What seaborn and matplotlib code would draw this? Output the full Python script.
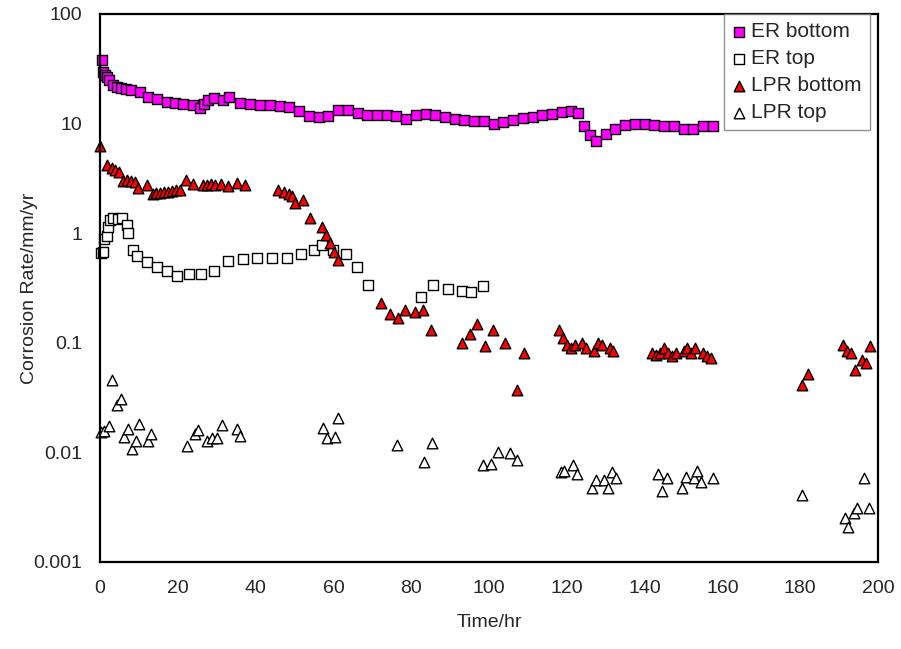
import numpy as np
import pandas as pd
import matplotlib
matplotlib.use("Agg")
import matplotlib.pyplot as plt
from matplotlib.ticker import FixedLocator, FixedFormatter, NullLocator
import seaborn as sns

# values (time in hr, rate in mm/yr)
er_bottom_t = [0.5, 0.8, 1.3, 1.8, 2.3, 3.3, 4.3, 5.4, 6.6, 7.9, 10.3, 12.4, 14.7, 17.2, 19.3,
               21.4, 23.9, 25.7, 26.8, 27.8, 29.3, 31.6, 33.2, 36.0, 38.6, 41.2, 43.7, 46.2,
               48.7, 51.2, 53.7, 56.2, 58.7, 61.2, 63.7, 66.2, 68.7, 71.2, 73.7, 76.2, 78.7,
               81.2, 83.7, 86.2, 88.7, 91.2, 93.7, 96.2, 98.7, 101.2, 103.7, 106.2, 108.7,
               111.2, 113.7, 116.2, 118.7, 121.2, 123.0, 124.5, 126.0, 127.5, 130.0, 132.5,
               135.0, 137.5, 140.0, 142.5, 145.0, 147.5, 150.0, 152.5, 155.0, 157.5]
er_bottom_v = [38, 29.5, 27.7, 26.6, 25, 22.5, 21.6, 21, 20.6, 20.2, 19.4, 17.5, 16.7, 15.8, 15.4,
               15, 14.8, 13.9, 15, 16.4, 17, 16.4, 17.5, 15.4, 15, 14.8, 14.8, 14.6,
               14.2, 13, 11.8, 11.5, 11.8, 13.2, 13.4, 12.5, 12, 12, 12, 11.8, 11,
               12, 12.3, 12, 11.5, 11, 10.8, 10.6, 10.5, 10, 10.3, 10.8, 11.2,
               11.6, 12, 12.3, 12.7, 13, 12.5, 9.5, 7.8, 7, 8, 9,
               9.8, 10, 10, 9.8, 9.5, 9.5, 9, 9, 9.5, 9.5]

er_top_t = [0.3, 0.7, 1.1, 1.8, 2.1, 2.6, 3.4, 4.5, 5.6, 6.9, 7.2, 8.5, 9.6, 12.0, 14.6, 17.3,
            19.8, 23.0, 26.0, 29.3, 33.0, 36.7, 40.3, 44.3, 48.0, 51.7, 55.0, 57.1, 60.0,
            63.3, 66.0, 68.8, 82.5, 85.7, 89.5, 93.0, 95.5, 98.5]
er_top_v = [0.66, 0.68, 0.88, 0.95, 1.13, 1.33, 1.37, 1.35, 1.37, 1.2, 1.0, 0.7, 0.62, 0.55, 0.49, 0.45,
            0.41, 0.42, 0.42, 0.45, 0.56, 0.58, 0.59, 0.59, 0.59, 0.64, 0.7, 0.78, 0.7,
            0.64, 0.49, 0.34, 0.26, 0.34, 0.31, 0.30, 0.29, 0.33]

lpr_bottom_t = [0, 1.8, 3, 3.9, 4.9, 6, 7, 8, 9, 9.8, 12, 13.7, 14.5, 15.5, 16.5, 17.5, 18.5,
                19.5, 20.5, 22, 24, 26.5, 27.5, 28.5, 29.5, 31, 33, 35.3, 37.3, 45.8, 47.2,
                48.5, 49.3, 50.2, 52.3, 54, 57, 58.2, 59, 60.2, 61.2, 72.3, 74.5, 76.5, 78.5,
                81, 83, 85, 93, 95, 97, 99, 101, 104, 107.3, 109, 118, 119, 120, 121, 122,
                124, 125, 127, 128, 129, 131, 132, 142, 143, 144, 145, 146, 147, 148, 150,
                151, 152, 153, 155, 156, 157, 180.4, 182, 191, 192, 193, 194, 196, 197, 198]
lpr_bottom_v = [6.2, 4.2, 3.9, 3.75, 3.6, 3.0, 3.05, 3.0, 2.95, 2.6, 2.75, 2.3, 2.35, 2.35, 2.4, 2.4, 2.45,
                2.5, 2.5, 3.05, 2.8, 2.75, 2.75, 2.8, 2.75, 2.8, 2.7, 2.9, 2.75, 2.47, 2.36,
                2.3, 2.2, 1.9, 2.0, 1.37, 1.13, 0.96, 0.81, 0.67, 0.57, 0.23, 0.185, 0.17, 0.2,
                0.19, 0.2, 0.13, 0.1, 0.12, 0.15, 0.093, 0.13, 0.1, 0.037, 0.08, 0.13, 0.11, 0.095, 0.09, 0.095,
                0.1, 0.09, 0.085, 0.1, 0.095, 0.09, 0.085, 0.08, 0.078, 0.08, 0.09, 0.08, 0.075, 0.08, 0.085,
                0.09, 0.08, 0.09, 0.08, 0.075, 0.073, 0.041, 0.052, 0.095, 0.085, 0.08, 0.057, 0.07, 0.065, 0.093]

lpr_top_t = [0.2, 1, 2.3, 3, 4.4, 5.4, 6.2, 7.2, 8.2, 9.3, 10, 12.4, 13.1, 22.4, 24.5, 25.2, 27.5,
             28.8, 30, 31.4, 35.2, 36, 57.4, 58.4, 60.5, 61.3, 76.4, 83.4, 85.4, 98.5, 100.4,
             102.4, 105.3, 107.3, 118.4, 119.2, 121.5, 122.5, 126.6, 127.4, 129.5, 130.5, 131.5,
             132.6, 143.4, 144.6, 145.7, 149.5, 150.6, 152.6, 153.4, 154.4, 157.5, 180.4, 191.5,
             192.3, 193.8, 194.6, 196.4, 197.7]
lpr_top_v = [0.0155, 0.0158, 0.0173, 0.0455, 0.027, 0.0305, 0.0138, 0.0163, 0.0107, 0.0128, 0.0181, 0.0128, 0.0146, 0.0115, 0.0148, 0.016, 0.0128,
             0.0135, 0.0135, 0.0176, 0.0165, 0.0142, 0.0168, 0.0135, 0.0138, 0.0205, 0.0116, 0.0081, 0.0123, 0.0077, 0.0079,
             0.0101, 0.0098, 0.0085, 0.0066, 0.0068, 0.0077, 0.0063, 0.0047, 0.0056, 0.0056, 0.0047, 0.0066,
             0.0058, 0.0063, 0.0044, 0.0059, 0.0047, 0.006, 0.0058, 0.0068, 0.0054, 0.0058, 0.0041, 0.0025,
             0.0021, 0.0028, 0.0031, 0.0058, 0.0031]

x_ticks = [0, 20, 40, 60, 80, 100, 120, 140, 160, 180, 200]
y_ticks = [0.001, 0.01, 0.1, 1, 10, 100]
y_tick_labels = ['0.001', '0.01', '0.1', '1', '10', '100']

sns.set_style("white")
plt.rcParams['font.family'] = ['Liberation Sans', 'DejaVu Sans']

fig = plt.figure(figsize=(9.01, 6.49), dpi=100)
ax = fig.add_axes([100/901, 1 - 562/649, 778/901, 548/649])

series = [
    (er_bottom_t, er_bottom_v, 'ER bottom', 's', '#ff00ff', 45),
    (er_top_t, er_top_v, 'ER top', 's', 'white', 45),
    (lpr_bottom_t, lpr_bottom_v, 'LPR bottom', '^', '#ff0000', 58),
    (lpr_top_t, lpr_top_v, 'LPR top', '^', 'white', 58),
]

for t, v, name, mk, fc, size in series:
    df = pd.DataFrame({'t': t, 'v': v})
    sns.scatterplot(data=df, x='t', y='v', marker=mk, s=size, color=fc,
                    edgecolor='black', linewidth=1.0, label=name, ax=ax, clip_on=False)

ax.set_yscale('log')
ax.set_xlim(0, 200)
ax.set_ylim(0.001, 100)
ax.xaxis.set_major_locator(FixedLocator(x_ticks))
ax.yaxis.set_major_locator(FixedLocator(y_ticks))
ax.yaxis.set_major_formatter(FixedFormatter(y_tick_labels))
ax.yaxis.set_minor_locator(NullLocator())
ax.tick_params(axis='both', direction='in', length=5, width=1.2, labelsize=14, color='black')
ax.tick_params(axis='y', pad=13)
ax.tick_params(axis='x', pad=13)

for sp in ax.spines.values():
    sp.set_color('black')
    sp.set_linewidth(1.6)

ax.set_xlabel('Time/hr', fontsize=14)
ax.set_ylabel('Corrosion Rate/mm/yr', fontsize=14)
ax.xaxis.set_label_coords(0.5, -0.095)
ax.yaxis.set_label_coords(-0.08, 0.5)

leg = ax.legend(loc='upper right', bbox_to_anchor=(0.99, 1.0), borderaxespad=0,
                fontsize=15, frameon=True, fancybox=False, markerscale=1.0,
                handlelength=0.6, handletextpad=0.3, labelspacing=0.38, borderpad=0.4)
leg.get_frame().set_edgecolor('#777777')
leg.get_frame().set_linewidth(1.0)

fig.savefig('out.png', dpi=100)
